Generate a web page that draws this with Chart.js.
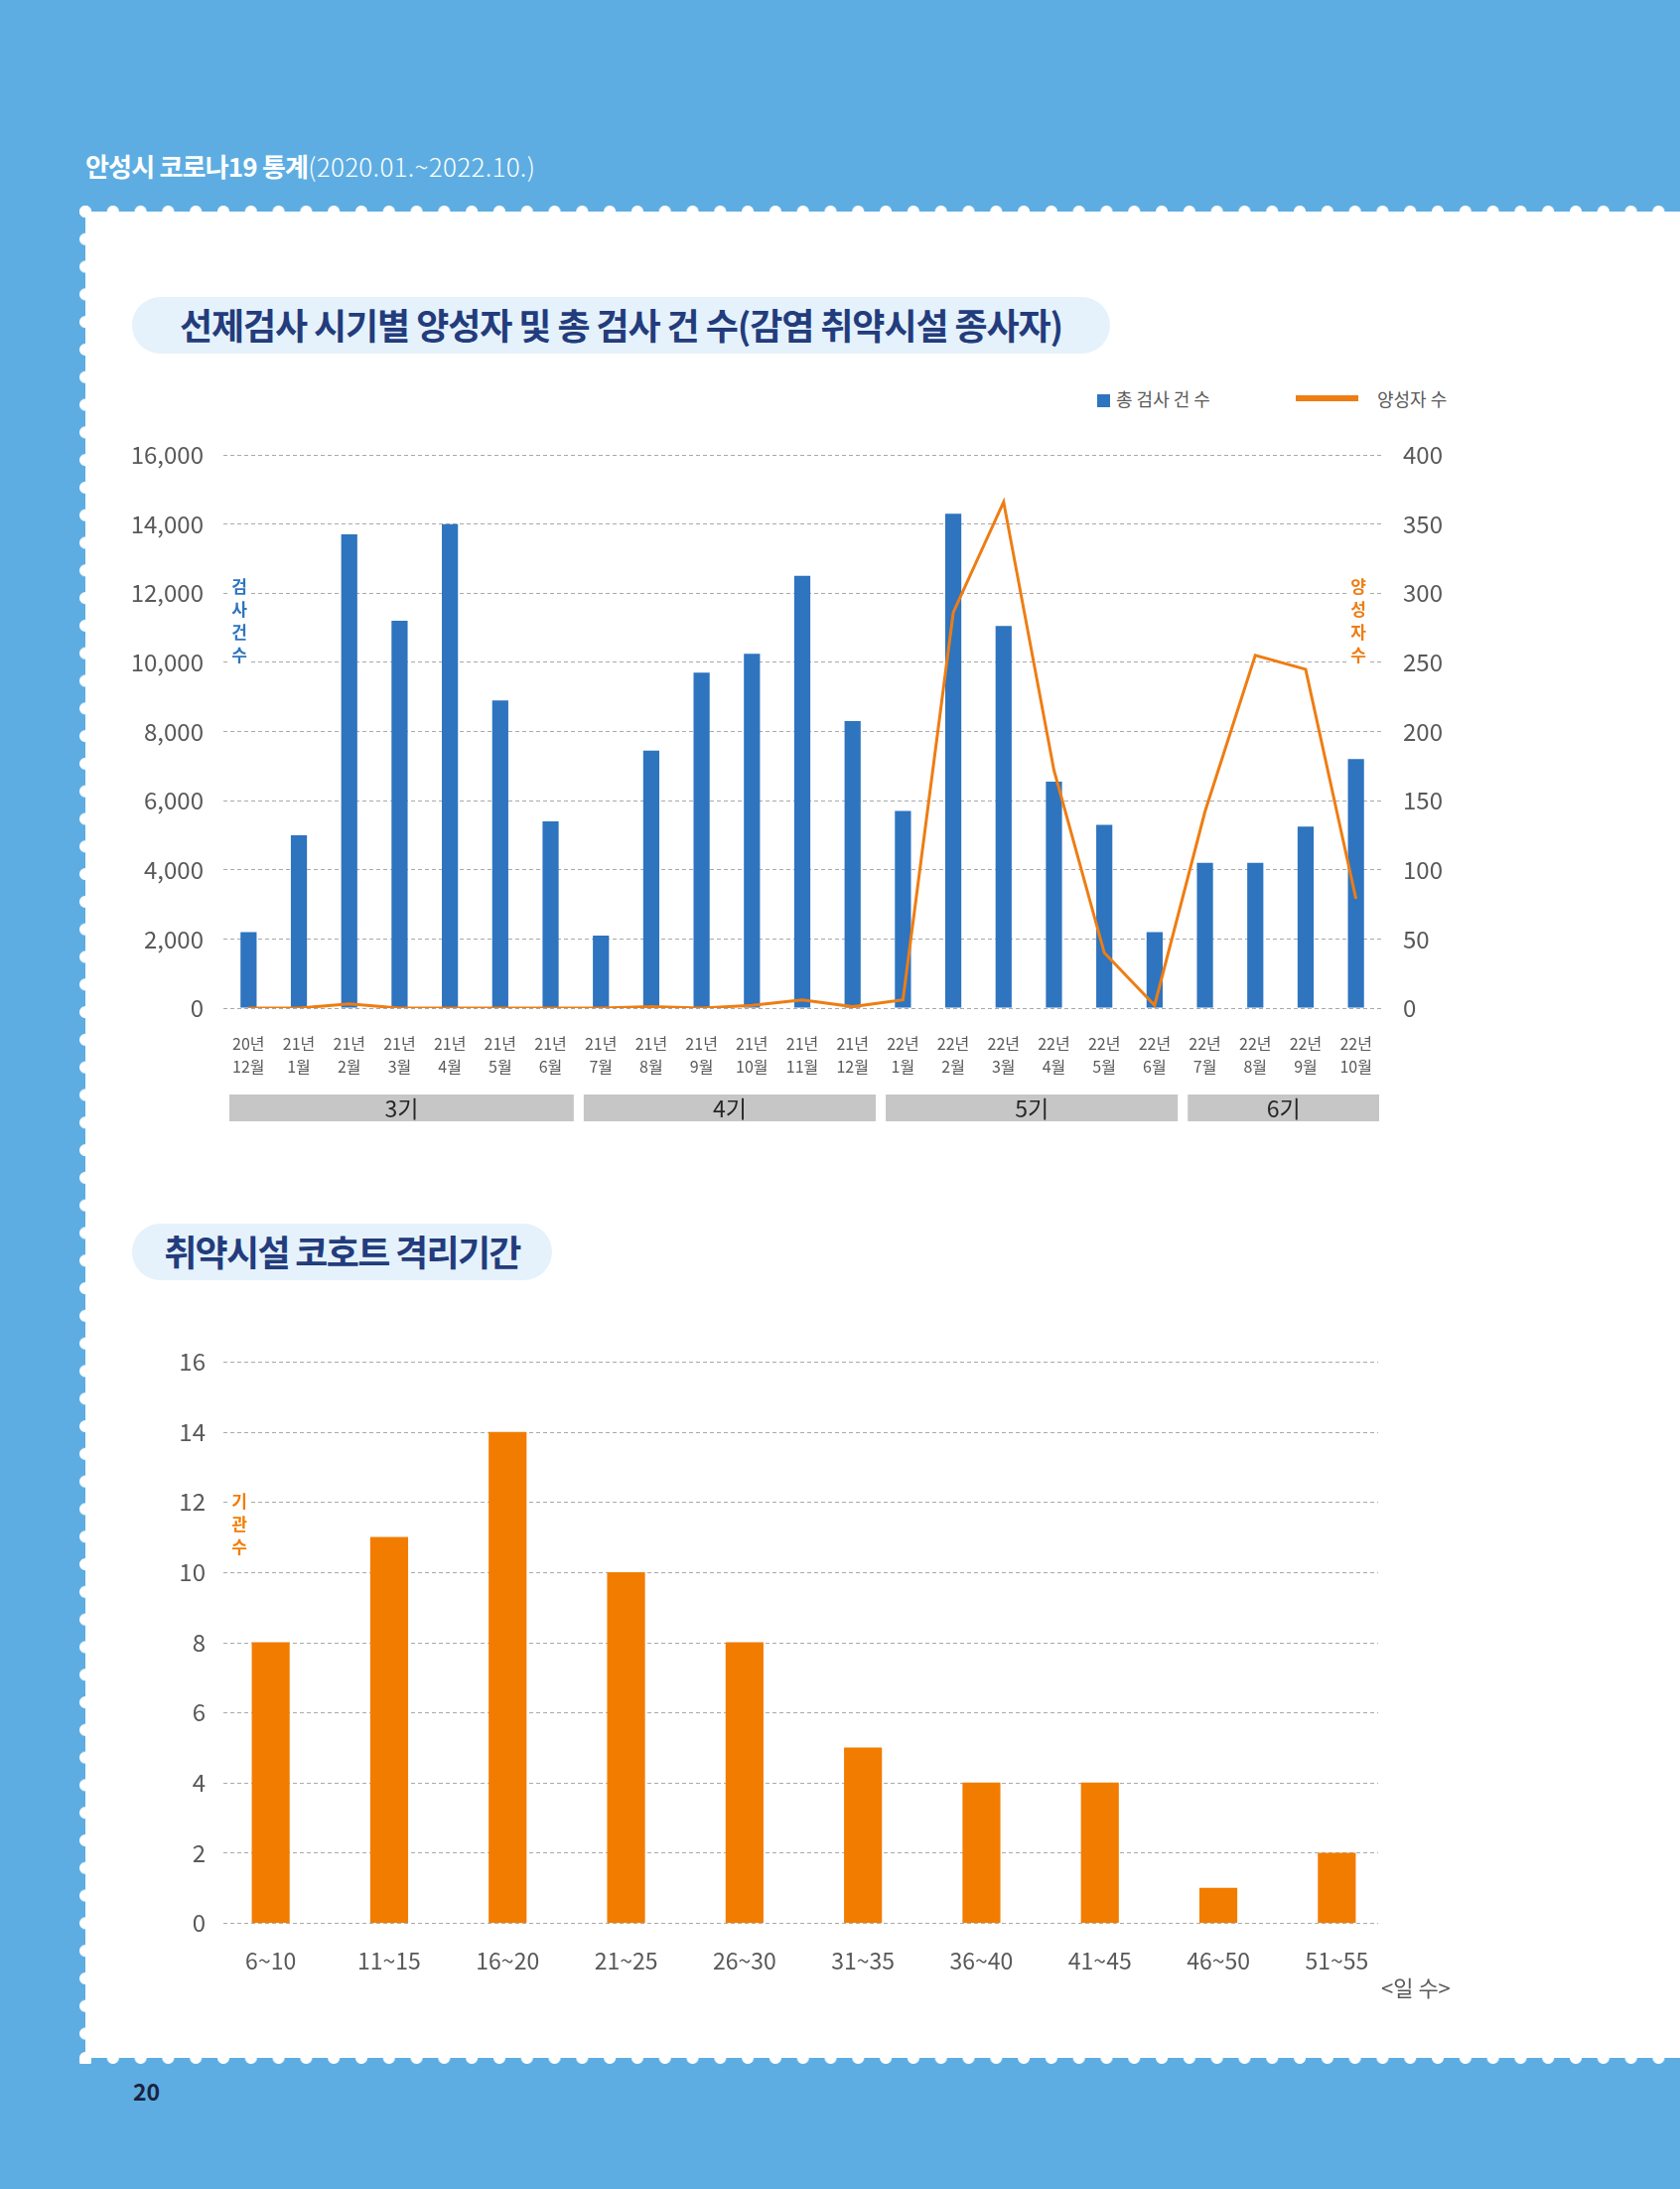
<!doctype html>
<html>
<head>
    <meta charset="UTF-8"/>
    <title>안성시 코로나19 통계</title>
    <style type="text/css">
        html, body { margin:0; padding:0; }
        body {
            width:1692px; height:2204px; position:relative; overflow:hidden;
            background:#5dade2;
            font-family:"Noto Sans CJK KR","Noto Sans",sans-serif;
        }
        .header { position:absolute; left:86px; top:148px; color:#fff; font-size:26px; white-space:nowrap; }
        .header b { font-weight:700; letter-spacing:-0.8px; }
        .header span { font-weight:300; letter-spacing:0.3px; }
        .card { position:absolute; left:86px; top:213px; width:1606px; height:1859px; background:#fff; }
        .edge { position:absolute; }
        .edge.top { left:-6px; top:-6px; right:0; height:12px;
            background:radial-gradient(circle at 6px 6px, #fff 5.5px, rgba(255,255,255,0) 6.5px) 0 0/27.8px 12px repeat-x; }
        .edge.bottom { left:-6px; bottom:-6px; right:0; height:12px;
            background:radial-gradient(circle at 6px 6px, #fff 5.5px, rgba(255,255,255,0) 6.5px) 0 0/27.8px 12px repeat-x; }
        .edge.left { left:-6px; top:-6px; bottom:-6px; width:12px;
            background:radial-gradient(circle at 6px 6px, #fff 5.5px, rgba(255,255,255,0) 6.5px) 0 0/12px 27.8px repeat-y; }
        .pill {
            position:absolute; height:57px; line-height:55px; border-radius:29px;
            background:#e5f2fc; color:#233c7c; font-weight:700; font-size:36px;
            text-align:center; white-space:nowrap;
        }
        .box { position:absolute; }
        .legend { position:absolute; top:389px; font-size:18px; color:#595959; line-height:24px; white-space:nowrap; }
        .vt { position:absolute; width:24px; text-align:center; font-size:17px; font-weight:700; line-height:23px; background:#fff; }
        .pageNo { position:absolute; left:134px; top:2088px; font-size:23px; font-weight:700; color:#1b2240; }
        .unit { position:absolute; left:1391px; top:1984px; font-size:22px; color:#595959; white-space:nowrap; }
    </style>
</head>
<body>
    <div class="header"><b>안성시 코로나19 통계</b><span>(2020.01.~2022.10.)</span></div>
    <div class="card">
        <div class="edge top"></div>
        <div class="edge left"></div>
        <div class="edge bottom"></div>
    </div>

    <div class="pill" style="left:133px; top:299px; width:985px; letter-spacing:-1.1px;">선제검사 시기별 양성자 및 총 검사 건 수(감염 취약시설 종사자)</div>

    <div class="legend" style="left:1105px;"><span style="display:inline-block;width:13px;height:13px;background:#2e74bf;vertical-align:-1px;margin-right:6px;"></span>총 검사 건 수</div>
    <div class="legend" style="left:1305px;"><span style="display:inline-block;width:63px;height:6px;background:#ee7d13;vertical-align:5px;margin-right:19px;"></span>양성자 수</div>

    <div class="box" style="left:130px; top:440px; width:1360px; height:700px;">
        <canvas id="testChart"></canvas>
    </div>
    <div class="vt" style="left:229px; top:578px; color:#2e74bf;">검<br>사<br>건<br>수</div>
    <div class="vt" style="left:1356px; top:578px; color:#ee7d13;">양<br>성<br>자<br>수</div>

    <div class="pill" style="left:133px; top:1232px; width:423px; letter-spacing:-1.7px;">취약시설 코호트 격리기간</div>

    <div class="box" style="left:130px; top:1350px; width:1300px; height:680px;">
        <canvas id="isoChart"></canvas>
    </div>
    <div class="vt" style="left:229px; top:1499px; color:#f27c00;">기<br>관<br>수</div>
    <div class="unit">&lt;일 수&gt;</div>

    <div class="pageNo">20</div>

    <script src="https://cdn.jsdelivr.net/npm/chart.js"></script>

    <script>
        // 선제검사 월별 자료
        const yearLabels = ['20년','21년','21년','21년','21년','21년','21년','21년','21년','21년','21년','21년','21년',
                            '22년','22년','22년','22년','22년','22년','22년','22년','22년','22년'];
        const monthLabels = ['12월','1월','2월','3월','4월','5월','6월','7월','8월','9월','10월','11월','12월',
                             '1월','2월','3월','4월','5월','6월','7월','8월','9월','10월'];
        const totalTests = [2200, 5000, 13700, 11200, 14000, 8900, 5400, 2100, 7450, 9700, 10250, 12500, 8300,
                            5700, 14300, 11050, 6550, 5300, 2200, 4200, 4200, 5250, 7200];
        const positiveCases = [0, 0, 3, 0, 0, 0, 0, 0, 1, 0, 2, 6, 1,
                               6, 286, 366, 172, 40, 2, 142, 255, 245, 79];

        // 선제검사 기수 (시작/끝 월 인덱스)
        const periodNames = ['3기', '4기', '5기', '6기'];
        const periodStart = [0, 7, 13, 19];
        const periodEnd = [6, 12, 18, 22];

        // 코호트 격리기간
        const dayRanges = ['6~10','11~15','16~20','21~25','26~30','31~35','36~40','41~45','46~50','51~55'];
        const facilityCounts = [8, 11, 14, 10, 8, 5, 4, 4, 1, 2];

        const FONT = '"Noto Sans CJK KR", "Noto Sans", sans-serif';
        const BLUE = '#2e74bf';
        const ORANGE = '#ee7d13';
        const BAR_ORANGE = '#f27c00';
        const TICK = '#595959';
        const GRID = '#a9a9a9';

        Chart.defaults.font.family = FONT;

        // no automatic label padding, so chart area sits exactly where layout padding says
        function noPad(s) {
            s.paddingTop = 0; s.paddingBottom = 0;
            s.paddingLeft = 0; s.paddingRight = 0;
        }

        const periodBands = {
            id: 'periodBands',
            afterDraw(chart) {
                const ctx = chart.ctx;
                const x = chart.scales.x;
                const step = x.width / monthLabels.length;
                const top = chart.chartArea.bottom + 87;
                ctx.save();
                periodNames.forEach((name, i) => {
                    const left = x.getPixelForValue(periodStart[i]) - step / 2 + (i === 0 ? 6 : 8);
                    const right = x.getPixelForValue(periodEnd[i]) + step / 2 - 2;
                    ctx.fillStyle = '#c6c6c6';
                    ctx.fillRect(left, top, right - left, 27);
                    ctx.fillStyle = '#262626';
                    ctx.font = '23px ' + FONT;
                    ctx.textAlign = 'center';
                    ctx.textBaseline = 'middle';
                    ctx.fillText(name, (left + right) / 2, top + 14);
                });
                ctx.restore();
            }
        };

        // gridlines of the second chart are a bit shorter than its category band
        const shortGrid = {
            id: 'shortGrid',
            beforeDatasetsDraw(chart) {
                const ctx = chart.ctx;
                const y = chart.scales.y;
                const {left, right} = chart.chartArea;
                ctx.save();
                ctx.strokeStyle = GRID;
                ctx.lineWidth = 1;
                ctx.setLineDash([4, 3]);
                y.ticks.forEach(t => {
                    const py = Math.round(y.getPixelForValue(t.value)) + 0.5;
                    ctx.beginPath();
                    ctx.moveTo(left + 12, py);
                    ctx.lineTo(right - 18, py);
                    ctx.stroke();
                });
                ctx.restore();
            }
        };

        const testChart = new Chart(document.getElementById('testChart'), {
            data: {
                labels: monthLabels.map((m, i) => [yearLabels[i], m]),
                datasets: [
                    {
                        type: 'line',
                        label: '양성자 수',
                        data: positiveCases,
                        yAxisID: 'y1',
                        borderColor: ORANGE,
                        borderWidth: 3,
                        pointRadius: 0,
                        tension: 0,
                        order: 0
                    },
                    {
                        type: 'bar',
                        label: '총 검사 건 수',
                        data: totalTests,
                        yAxisID: 'y',
                        backgroundColor: BLUE,
                        categoryPercentage: 1,
                        barPercentage: 0.32,
                        order: 1
                    }
                ]
            },
            options: {
                responsive: true,
                maintainAspectRatio: false,
                animation: false,
                layout: { padding: { top: 18, left: 0, right: 0, bottom: 0 } },
                plugins: { legend: { display: false }, tooltip: { enabled: false } },
                scales: {
                    x: {
                        grid: { display: false },
                        border: { display: false },
                        ticks: { color: TICK, font: { size: 16, lineHeight: 1.45 }, padding: 16, maxRotation: 0, autoSkip: false },
                        afterFit(s) { s.height = 125; noPad(s); }
                    },
                    y: {
                        position: 'left',
                        min: 0,
                        max: 16000,
                        ticks: { stepSize: 2000, padding: 20, color: TICK, font: { size: 24 },
                                 callback: v => v.toLocaleString('en-US') },
                        grid: { color: GRID, lineWidth: 1, drawTicks: false },
                        border: { display: false, dash: [4, 3] },
                        afterFit(s) { s.width = 95; noPad(s); }
                    },
                    y1: {
                        position: 'right',
                        min: 0,
                        max: 400,
                        ticks: { stepSize: 50, padding: 22, color: TICK, font: { size: 24 } },
                        grid: { display: false, drawTicks: false },
                        border: { display: false },
                        afterFit(s) { s.width = 99; noPad(s); }
                    }
                }
            },
            plugins: [periodBands]
        });

        const isoChart = new Chart(document.getElementById('isoChart'), {
            type: 'bar',
            data: {
                labels: dayRanges,
                datasets: [{
                    label: '기관 수',
                    data: facilityCounts,
                    backgroundColor: BAR_ORANGE,
                    categoryPercentage: 1,
                    barPercentage: 0.32
                }]
            },
            options: {
                responsive: true,
                maintainAspectRatio: false,
                animation: false,
                layout: { padding: { top: 21, left: 0, right: 24, bottom: 0 } },
                plugins: { legend: { display: false }, tooltip: { enabled: false } },
                scales: {
                    x: {
                        grid: { display: false },
                        border: { display: false },
                        ticks: { color: TICK, font: { size: 23 }, padding: 16, maxRotation: 0, autoSkip: false },
                        afterFit(s) { s.height = 94; noPad(s); }
                    },
                    y: {
                        min: 0,
                        max: 16,
                        ticks: { stepSize: 2, padding: 6, color: TICK, font: { size: 24 } },
                        grid: { display: false, drawTicks: false },
                        border: { display: false },
                        afterFit(s) { s.width = 83; noPad(s); }
                    }
                }
            },
            plugins: [shortGrid]
        });
    </script>
</body>
</html>
